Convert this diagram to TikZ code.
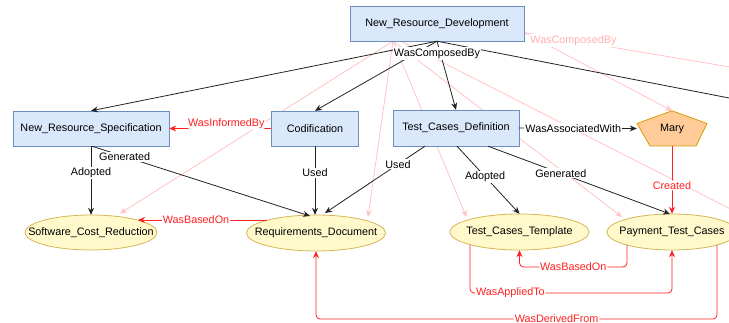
\documentclass[tikz,border=0pt]{standalone}
\usepackage{fontspec}
\setmainfont{Liberation Sans}
\usetikzlibrary{arrows.meta,calc,shapes.geometric}
\definecolor{procfill}{HTML}{DAE8FC}
\definecolor{procdraw}{HTML}{6C8EBF}
\definecolor{entfill}{HTML}{FFF9CC}
\definecolor{entdraw}{HTML}{D6B656}
\definecolor{agfill}{HTML}{FFCC99}
\definecolor{agdraw}{HTML}{D79B00}
\definecolor{edgecol}{HTML}{222222}
\definecolor{pinkcol}{HTML}{FFC4C4}
\definecolor{pinktext}{HTML}{FFB0B0}
\definecolor{redcol}{HTML}{FF2020}
\begin{document}
\begin{tikzpicture}[x=1pt,y=-1pt,font=\fontsize{10.8}{13}\selectfont,
  proc/.style={draw=procdraw,fill=procfill,line width=0.8pt,inner sep=0pt,minimum height=35pt},
  place/.style={inner sep=0pt,minimum height=35pt},
  entshape/.style={draw=entdraw,fill=entfill,line width=0.8pt},
  tip/.style={-{Stealth[length=7pt,width=6pt]}},
  edge/.style={draw=edgecol,line width=0.8pt,tip},
  pedge/.style={draw=pinkcol,line width=0.8pt,tip},
  pline/.style={draw=pinkcol,line width=0.8pt},
  redge/.style={draw=redcol,line width=0.8pt,tip,rounded corners=4pt},
  lbl/.style={fill=white,inner sep=1pt,text=black},
  rlbl/.style={fill=white,inner sep=1pt,text=redcol},
  plbl/.style={fill=white,inner sep=1pt,text=pinktext}]
\useasboundingbox (0,0) rectangle (729,323);

% node places (named)
\node[place,minimum width=174pt] (nrd) at (437,23.5) {};
\node[place,minimum width=156pt] (nrs) at (91,128.5) {};
\node[place,minimum width=87pt] (cod) at (315,128.5) {};
\node[place,minimum width=126pt,minimum height=36pt] (tcd) at (456,128) {};
\node[place,minimum width=132pt,minimum height=35pt] (scr) at (91,232.5) {};
\node[place,minimum width=139pt,minimum height=36pt] (rd) at (316,233) {};
\node[place,minimum width=139pt,minimum height=36pt] (tct) at (519.5,232) {};
\node[place,minimum width=130pt,minimum height=36pt] (ptc) at (672,232) {};
\node[place,minimum width=70pt] (mary) at (672,128.5) {};

\coordinate (phub) at ($(nrd.south)+(-44,0)$);
\coordinate (phub2) at ($(nrd.east)+(0,9)$);
\coordinate (offA) at (760,104);
\coordinate (offB) at (760,224);
\coordinate (offC) at (760,72);

% faded pink edges (behind the shapes)
\draw[pedge] (phub) -- ($(scr.center)+(29,-19)$);
\draw[pedge] (phub) -- ($(rd.center)+(52,-16)$);
\draw[pedge] (phub) -- ($(tct.center)+(-53,-15)$);
\draw[pedge] (phub) -- ($(ptc.center)+(-50,-15)$);
\draw[pline] ($(phub)+(8,0)$) -- (offB);
\draw[pedge] (phub2) -- (mary.north);
\draw[pline] (phub2) -- (offC);

% shapes with their texts
\node[proc,minimum width=174pt] at (nrd) {New\_Resource\_Development};
\node[proc,minimum width=156pt] at (nrs) {New\_Resource\_Specification};
\node[proc,minimum width=87pt] at (cod) {Codification};
\node[proc,minimum width=126pt,minimum height=36pt] at (tcd) {Test\_Cases\_Definition};
\path[entshape] (scr.center) ellipse [x radius=66pt,y radius=17.5pt];
\node at (scr) {Software\_Cost\_Reduction};
\path[entshape] (rd.center) ellipse [x radius=69.5pt,y radius=18pt];
\node at (rd) {Requirements\_Document};
\path[entshape] (tct.center) ellipse [x radius=69.5pt,y radius=18pt];
\node at (tct) {Test\_Cases\_Template};
\path[entshape] (ptc.center) ellipse [x radius=65pt,y radius=18pt];
\node at (ptc) {Payment\_Test\_Cases};
\draw[fill=agfill,draw=agdraw,line width=0.8pt] (mary.north) -- ($(mary.center)+(35,-5)$) -- ($(mary.center)+(24,17.5)$) -- ($(mary.center)+(-22,17.5)$) -- ($(mary.center)+(-35,-5)$) -- cycle;
\node at (mary) {Mary};

\node[plbl] at (573.5,40.5) {WasComposedBy};

% black WasComposedBy hyperedge
\draw[edge] (nrd.south) -- (nrs.north);
\draw[edge] (nrd.south) -- (cod.north);
\draw[edge] (nrd.south) -- (tcd.north);
\draw[draw=edgecol,line width=0.8pt] (nrd.south) -- (offA);
\node[lbl] at (437,53.5) {WasComposedBy};

% other black edges
\draw[edge] (nrs.south) -- node[lbl,pos=0.39] {Adopted} (scr.north);
\draw[edge] ($(nrs.south)+(1,0)$) -- node[lbl,pos=0.15] {Generated} ($(rd.center)+(-6,-17)$);
\draw[edge] (cod.south) -- node[lbl,pos=0.39] {Used} ($(rd.north)+(-1,0)$);
\draw[edge] ($(tcd.south)+(-31,0)$) -- node[lbl,pos=0.27] {Used} ($(rd.center)+(9,-20)$);
\draw[edge] ($(tcd.south)+(1,0)$) -- node[lbl,pos=0.45] {Adopted} (tct.north);
\draw[edge] ($(tcd.south)+(32,0)$) -- node[lbl,pos=0.4] {Generated} ($(ptc.center)+(-2,-18)$);
\draw[edge] (tcd.east) -- node[lbl,pos=0.46] {WasAssociatedWith} (mary.west);

% red edges
\draw[redge] (cod.west) -- node[rlbl,pos=0.44,yshift=5pt] {WasInformedBy} (nrs.east);
\draw[redge] (mary.south) -- node[rlbl,pos=0.58] {Created} (ptc.north);
\draw[redge] ($(rd.center)+(-49,-13)$) -- node[rlbl,pos=0.55] {WasBasedOn} ($(scr.center)+(47,-12.5)$);
\draw[redge] ($(ptc.center)+(-45,13)$) |- node[rlbl,pos=0.75] {WasBasedOn} ($(tct.center)+(0,35)$) -- (tct.south);
\draw[redge] ($(tct.center)+(-49.5,13)$) |- node[rlbl,pos=0.6] {WasAppliedTo} ($(ptc.center)+(0,61)$) -- (ptc.south);
\draw[redge] ($(ptc.center)+(45,13)$) |- node[rlbl,pos=0.7] {WasDerivedFrom} ($(rd.center)+(0,86)$) -- (rd.south);
\end{tikzpicture}
\end{document}
